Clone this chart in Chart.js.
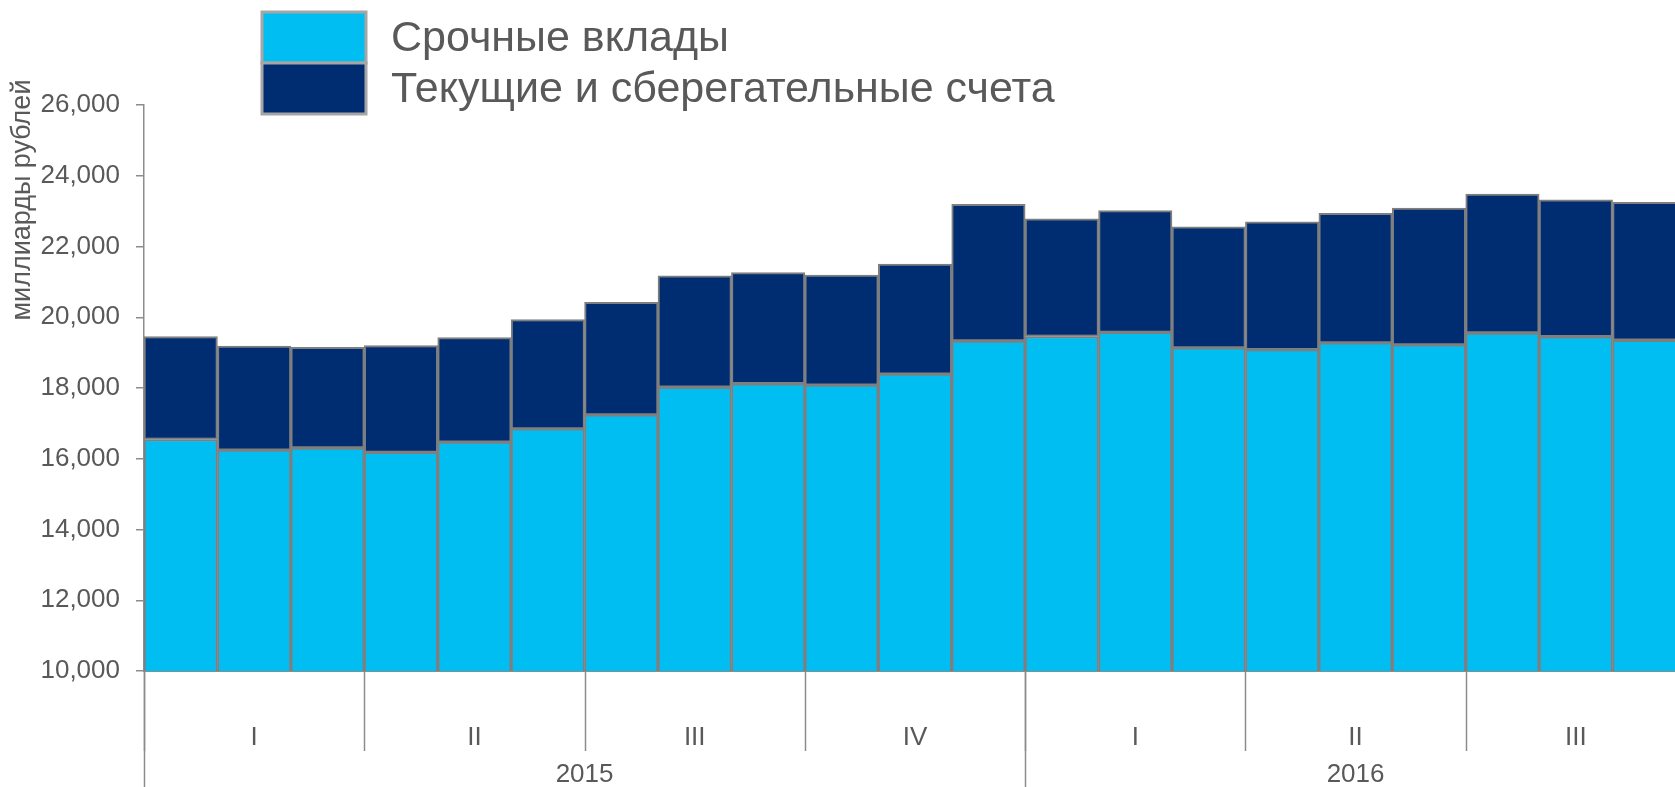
<!DOCTYPE html>
<html>
<head>
<meta charset="utf-8">
<script src="https://cdn.jsdelivr.net/npm/chart.js@4/dist/chart.umd.min.js"></script>
<style>
  html, body { margin: 0; padding: 0; background: #ffffff; overflow: hidden; width: 1675px; height: 787px; }
  #wrap { width: 1686px; height: 787px; position: relative; }
</style>
</head>
<body>
<div id="wrap"><canvas id="c"></canvas></div>
<script>
// ---- Data (billion rubles) ----
const categories = [
  '2015-01','2015-02','2015-03','2015-04','2015-05','2015-06',
  '2015-07','2015-08','2015-09','2015-10','2015-11','2015-12',
  '2016-01','2016-02','2016-03','2016-04','2016-05','2016-06',
  '2016-07','2016-08','2016-09'
];
const termDeposits = [
  16545, 16245, 16305, 16180, 16470, 16845,
  17240, 18020, 18120, 18080, 18390, 19328,
  19455, 19572, 19134, 19086, 19275, 19217,
  19555, 19450, 19350
];
const currentAccounts = [
  2910, 2937, 2847, 3022, 2955, 3092,
  3185, 3148, 3140, 3110, 3113, 3864,
  3325, 3444, 3420, 3609, 3665, 3868,
  3925, 3868, 3900
];
const seriesNames = ['Срочные вклады', 'Текущие и сберегательные счета'];
const quarterLabels = ['I','II','III','IV','I','II','III'];
const quarterSpans  = [3, 3, 3, 3, 3, 3, 3];
const yearLabels = ['2015', '2016'];
const yearSpans  = [12, 9];
const yTicks = [10000, 12000, 14000, 16000, 18000, 20000, 22000, 24000, 26000];
const yTitle = 'миллиарды рублей';

const LIGHT = '#00BDF2';
const DARK = '#002D71';
const BAR_BORDER = '#7F7F7F';
const AXIS = '#8C8C8C';
const TEXT = '#595959';
const FONT = '"Liberation Sans", Arial, sans-serif';

const decorPlugin = {
  id: 'decor',
  afterDraw(chart) {
    const ctx = chart.ctx;
    const x = chart.scales.x;
    const area = chart.chartArea;
    const step = x.getPixelForValue(1) - x.getPixelForValue(0);
    const edge = i => x.getPixelForValue(i) - step / 2;
    ctx.save();
    ctx.strokeStyle = AXIS;
    ctx.lineWidth = 1.5;
    ctx.fillStyle = TEXT;
    ctx.textAlign = 'center';
    ctx.textBaseline = 'middle';
    // quarters
    ctx.font = '26px ' + FONT;
    let idx = 0;
    quarterLabels.forEach((q, k) => {
      const a = edge(idx), b = edge(idx + quarterSpans[k]);
      ctx.beginPath(); ctx.moveTo(Math.round(a) + 0.5, area.bottom); ctx.lineTo(Math.round(a) + 0.5, area.bottom + 80); ctx.stroke();
      ctx.fillText(q, (a + b) / 2, area.bottom + 67);
      idx += quarterSpans[k];
    });
    // years
    idx = 0;
    yearLabels.forEach((yl, k) => {
      const a = edge(idx), b = edge(idx + yearSpans[k]);
      ctx.beginPath(); ctx.moveTo(Math.round(a) + 0.5, area.bottom); ctx.lineTo(Math.round(a) + 0.5, chart.height); ctx.stroke();
      ctx.fillText(yl, (a + b) / 2, area.bottom + 104);
      idx += yearSpans[k];
    });
    // y title
    ctx.save();
    ctx.translate(23, 200);
    ctx.rotate(-Math.PI / 2);
    ctx.font = '27px ' + FONT;
    ctx.fillText(yTitle, 0, 0);
    ctx.restore();
    // legend
    const ds = chart.data.datasets;
    const boxes = [[262, 12, 104, 51], [262, 63, 104, 51]];
    ds.forEach((d, i) => {
      const [bx, by, bw, bh] = boxes[i];
      ctx.fillStyle = d.backgroundColor;
      ctx.fillRect(bx, by, bw, bh);
      ctx.strokeStyle = '#A6A6A6';
      ctx.lineWidth = 3;
      ctx.strokeRect(bx, by, bw, bh);
      ctx.fillStyle = TEXT;
      ctx.textAlign = 'left';
      ctx.font = '43px ' + FONT;
      ctx.fillText(d.label, 391, by + bh / 2 + 2);
    });
    ctx.restore();
  }
};

new Chart(document.getElementById('c'), {
  type: 'bar',
  data: {
    labels: categories,
    datasets: [
      { label: seriesNames[0], data: termDeposits, backgroundColor: LIGHT, borderColor: BAR_BORDER, borderWidth: 2, borderSkipped: false },
      { label: seriesNames[1], data: currentAccounts, backgroundColor: DARK, borderColor: BAR_BORDER, borderWidth: 2, borderSkipped: false }
    ]
  },
  options: {
    responsive: true,
    maintainAspectRatio: false,
    animation: false,
    layout: { padding: { top: 105, left: 0, right: 0, bottom: 0 } },
    datasets: { bar: { barPercentage: 1, categoryPercentage: 1 } },
    plugins: { legend: { display: false }, tooltip: { enabled: false } },
    scales: {
      x: {
        stacked: true,
        grid: { display: false },
        border: { display: true, color: AXIS, width: 2 },
        ticks: { display: false },
        afterFit(s) { s.height = 116; }
      },
      y: {
        stacked: true,
        min: 10000,
        max: 26000,
        afterBuildTicks(s) { s.ticks = yTicks.map(v => ({ value: v })); },
        grid: { drawOnChartArea: false, drawTicks: true, tickLength: 8, color: AXIS, lineWidth: 1.5 },
        border: { display: true, color: AXIS, width: 1.5 },
        ticks: {
          padding: 16,
          color: TEXT,
          font: { family: FONT, size: 26 },
          callback: v => v.toLocaleString('en-US')
        },
        afterFit(s) { s.width = 144; }
      }
    }
  },
  plugins: [decorPlugin]
});
</script>
</body>
</html>
